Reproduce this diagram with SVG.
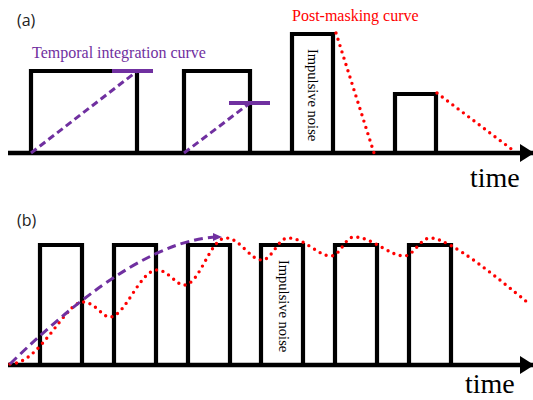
<svg xmlns="http://www.w3.org/2000/svg" width="533" height="400" viewBox="0 0 533 400">
<style>
.box{fill:none;stroke:#000;stroke-width:4.2;stroke-linejoin:miter}
.axis{fill:none;stroke:#000;stroke-width:4.5}
.tic{fill:none;stroke:#7030A0;stroke-width:3;stroke-dasharray:7 4}
.bar{fill:none;stroke:#7030A0;stroke-width:4}
.mask{fill:none;stroke:#FF0000;stroke-width:3.4;stroke-linecap:round;stroke-dasharray:0 6.6}
.lbl{font-family:"Open Sans","DejaVu Sans",sans-serif;font-size:16px;fill:#222}
.serif{font-family:"Liberation Serif","Times New Roman",serif}
.time{font-size:28px;fill:#000}
.noise{font-size:14.5px;fill:#000}
</style>
<defs>
<marker id="ah" markerWidth="14" markerHeight="18" refX="13" refY="9" orient="auto" markerUnits="userSpaceOnUse">
<path d="M0,0 L14,9 L0,18 Z" fill="#000"/>
</marker>
<marker id="ph" markerWidth="9" markerHeight="8" refX="8" refY="4" orient="auto" markerUnits="userSpaceOnUse">
<path d="M0,0 L9,4 L0,8 Z" fill="#7030A0"/>
</marker>
</defs>
<g id="panel-a">
<text class="lbl" x="17" y="26">(a)</text>
<g id="connectors-a">
<line class="axis" x1="8" y1="153" x2="533" y2="153" marker-end="url(#ah)"/>
</g>
<g id="a-box1"><path class="box" d="M31,153 V71 H137 V153"/></g>
<g id="a-box2"><path class="box" d="M184,153 V71 H250 V153"/></g>
<g id="a-box3"><path class="box" d="M292,153 V34 H333 V153"/>
<text class="serif noise" transform="translate(308,49) rotate(90)">Impulsive noise</text></g>
<g id="a-box4"><path class="box" d="M395,153 V94 H436 V153"/></g>
<g id="a-temporal">
<line class="tic" x1="31" y1="153" x2="136" y2="72"/>
<line class="bar" x1="112" y1="71" x2="153" y2="71"/>
<line class="tic" x1="184" y1="153" x2="250" y2="103"/>
<line class="bar" x1="229" y1="103" x2="270" y2="103"/>
<text class="serif" x="32" y="58" font-size="16" fill="#7030A0">Temporal integration curve</text>
</g>
<g id="a-postmask">
<line class="mask" x1="336" y1="33" x2="374" y2="153"/>
<line class="mask" x1="437" y1="93" x2="514" y2="151"/>
<text class="serif" x="292" y="21" font-size="16" fill="#FF0000">Post-masking curve</text>
</g>
<text class="serif time" x="470" y="187">time</text>
</g>
<g id="panel-b">
<text class="lbl" x="17" y="226">(b)</text>
<g id="connectors-b">
<line class="axis" x1="8" y1="365" x2="533" y2="365" marker-end="url(#ah)"/>
</g>
<g id="b-box1"><path class="box" d="M40,365 V245 H82 V365"/></g>
<g id="b-box2"><path class="box" d="M114,365 V245 H156 V365"/></g>
<g id="b-box3"><path class="box" d="M188,365 V245 H230 V365"/></g>
<g id="b-box4"><path class="box" d="M261,365 V245 H303 V365"/>
<text class="serif noise" transform="translate(279,260) rotate(90)">Impulsive noise</text></g>
<g id="b-box5"><path class="box" d="M335,365 V245 H377 V365"/></g>
<g id="b-box6"><path class="box" d="M409,365 V245 H451 V365"/></g>
<g id="b-curves">
<path class="mask" d="M10,364 C40,364 65,302 83,302 C95,302 102,317 110,317 C125,317 140,270 157,270 C168,270 176,285 184,285 C200,285 210,238 226,238 C240,238 250,260 262,260 C272,260 278,238 288,238 C305,238 318,256 331,256 C340,256 345,237 354,237 C372,237 390,256 404,256 C414,256 420,238 430,238 C450,238 500,280 527,302"/>
<path fill="none" stroke="#7030A0" stroke-width="3" stroke-dasharray="9 5" d="M10,364 Q140,237 221,237" marker-end="url(#ph)"/>
</g>
<text class="serif time" x="465" y="393">time</text>
</g>
</svg>
